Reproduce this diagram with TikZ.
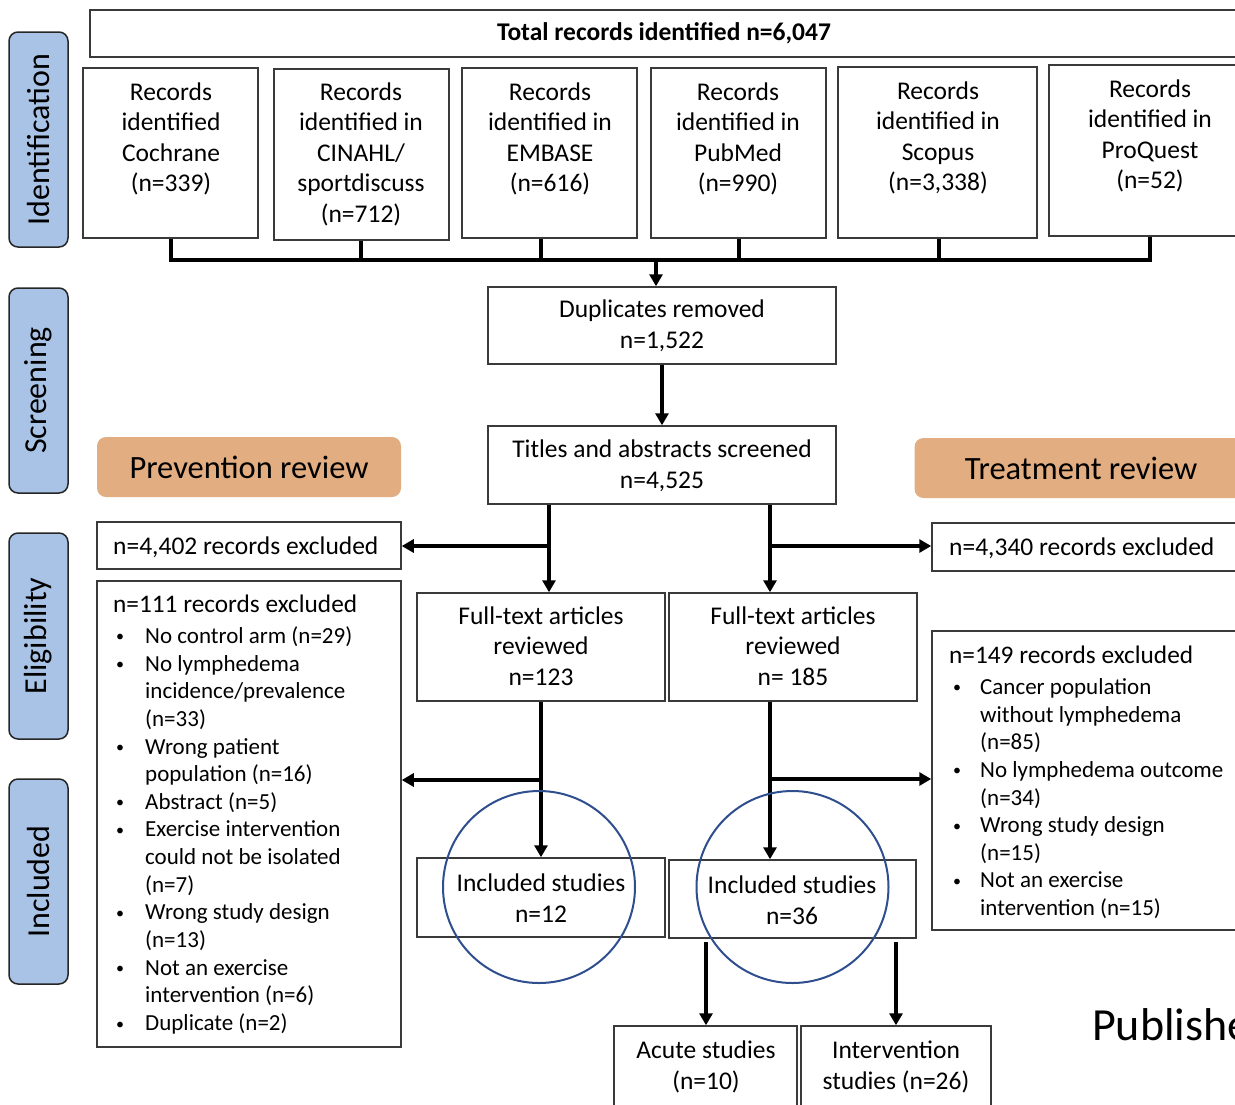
\documentclass[tikz,border=0pt]{standalone}
\usepackage{fontspec}
\setmainfont{Carlito}
\usetikzlibrary{arrows.meta}
\definecolor{stageblue}{HTML}{A9C3E6}
\definecolor{revorange}{HTML}{E2AD80}
\definecolor{boxgray}{HTML}{3A3A3A}
\definecolor{circblue}{HTML}{2E4E8E}
\newcommand{\boxnode}[6][box]{%
  \pgfmathsetmacro{\myw}{#5-#3}\pgfmathsetmacro{\myh}{#6-#4}%
  \pgfmathsetmacro{\mycx}{(#3+#5)/2}\pgfmathsetmacro{\mycy}{(#4+#6)/2}%
  \node[#1, minimum width=\myw pt, minimum height=\myh pt] (#2) at (\mycx,\mycy) {};}
\newcommand{\smbul}{\raisebox{1.5pt}{\fontsize{16}{16}\selectfont\textbullet}}
\newcommand{\itm}{\hspace*{3pt}\makebox[29pt][l]{\smbul}}
\newcommand{\cnt}{\hspace*{32pt}}
\newcommand{\itmr}{\hspace*{4pt}\makebox[27pt][l]{\smbul}}
\newcommand{\cntr}{\hspace*{31pt}}
\newcommand{\hdr}[1]{{\fontsize{25.3}{27.65}\selectfont #1}}
\tikzset{
  box/.style={draw=boxgray, line width=1.5pt, fill=white, inner sep=0pt},
  stage/.style={draw=black!85, line width=1.5pt, fill=stageblue, rounded corners=9pt, inner sep=0pt},
  stagetxt/.style={rotate=90, font=\fontsize{32}{34}\selectfont, inner sep=0pt},
  review/.style={fill=revorange, rounded corners=9pt, inner sep=0pt, font=\fontsize{32.5}{34}\selectfont},
  txt/.style={align=center, font=\fontsize{25.5}{30.5}\selectfont, inner sep=0pt},
  ltxt/.style={align=left, font=\fontsize{25.5}{27.65}\selectfont, inner sep=0pt},
  lsttxt/.style={align=left, font=\fontsize{23}{27.65}\selectfont, inner sep=0pt},
  conn/.style={line width=4pt},
  arr/.style={line width=4pt, -{Triangle[length=12pt,width=13pt]}},
  circ/.style={circle, draw=circblue, line width=2pt, minimum size=192pt, inner sep=0pt}
}
\begin{document}
\begin{tikzpicture}[x=1pt,y=-1pt]
\useasboundingbox (0,0) rectangle (1235,1104);
\clip (0,0) rectangle (1235,1104);
% stage labels
\boxnode[stage]{stI}{9}{32}{68}{247}
\node[stagetxt] (stIt) at (stI) {Identification};
\boxnode[stage]{stS}{9}{288}{68}{493}
\node[stagetxt] (stSt) at (stS) {Screening};
\boxnode[stage]{stE}{9}{533}{68}{739}
\node[stagetxt] (stEt) at (stE) {Eligibility};
\boxnode[stage]{stN}{9}{779}{68}{984}
\node[stagetxt] (stNt) at (stN) {Included};
% total
\boxnode{tot}{90}{10}{1250}{57}
\node[txt, font=\fontsize{25.5}{28}\selectfont\bfseries] (tott) at (664,33) {Total records identified n=6,047};
% records
\boxnode{coch}{83}{68}{258}{238}
\node[txt] (cocht) at (171,139) {Records\\identified\\Cochrane\\(n=339)};
\boxnode{cin}{274}{69}{449}{240}
\node[txt] (cint) at (361,154) {Records\\identified in\\CINAHL/\\sportdiscuss\\(n=712)};
\boxnode{emb}{462}{68}{637}{238}
\node[txt] (embt) at (550,139) {Records\\identified in\\EMBASE\\(n=616)};
\boxnode{pub}{651}{68}{826}{238}
\node[txt] (pubt) at (738,139) {Records\\identified in\\PubMed\\(n=990)};
\boxnode{sco}{838}{67}{1037}{238}
\node[txt] (scot) at (938,138) {Records\\identified in\\Scopus\\(n=3,338)};
\boxnode{pq}{1049}{65}{1250}{236}
\node[txt] (pqt) at (1150,136) {Records\\identified in\\ProQuest\\(n=52)};
% bracket
\coordinate (s1) at (171,260);
\coordinate (s2) at (361,260);
\coordinate (s3) at (541,260);
\coordinate (s4) at (739,260);
\coordinate (s5) at (939,260);
\coordinate (s6) at (1150,260);
\coordinate (s0) at (656,260);
\draw[conn] (coch.south -| s1) -- (s1) -- (s6) -- (pq.south -| s6);
\draw[conn] (cin.south -| s2) -- (s2);
\draw[conn] (emb.south -| s3) -- (s3);
\draw[conn] (pub.south -| s4) -- (s4);
\draw[conn] (sco.south -| s5) -- (s5);
% duplicates / titles
\boxnode{dup}{488}{287}{836}{364}
\node[txt] (dupt) at (662,326) {Duplicates removed\\n=1,522};
\boxnode{tit}{488}{426}{836}{504}
\node[txt] (titt) at (662,466) {Titles and abstracts screened\\n=4,525};
\draw[arr] (s0) -- (dup.north -| s0);
\draw[arr] (dup.south) -- (tit.north);
% reviews
\node[review, minimum width=304pt, minimum height=60pt] (prev) at (249,467) {Prevention review};
\node[review, minimum width=333pt, minimum height=60pt] (treat) at (1081,468) {Treatment review};
% exclusions
\boxnode{ex1}{97}{522}{401}{569}
\node[ltxt, anchor=west] (ex1t) at (113,547) {n=4,402 records excluded};
\boxnode{ex2}{932}{523}{1250}{571}
\node[ltxt, anchor=west] (ex2t) at (949,548) {n=4,340 records excluded};
% full text
\boxnode{ftl}{417}{593}{665}{701}
\node[txt] (ftlt) at (541,646) {Full-text articles\\reviewed\\n=123};
\boxnode{ftr}{669}{593}{917}{701}
\node[txt] (ftrt) at (793,646) {Full-text articles\\reviewed\\n= 185};
% lists
\boxnode{lst1}{97}{581}{401}{1047}
\node[lsttxt, anchor=north west] (lst1t) at (113,595) {\hdr{n=111 records excluded}\\[3pt]
\itm No control arm (n=29)\\
\itm No lymphedema\\
\cnt incidence/prevalence\\
\cnt (n=33)\\
\itm Wrong patient\\
\cnt population (n=16)\\
\itm Abstract (n=5)\\
\itm Exercise intervention\\
\cnt could not be isolated\\
\cnt (n=7)\\
\itm Wrong study design\\
\cnt (n=13)\\
\itm Not an exercise\\
\cnt intervention (n=6)\\
\itm Duplicate (n=2)};
\boxnode{lst2}{932}{631}{1250}{930}
\node[lsttxt, anchor=north west] (lst2t) at (949,646) {\hdr{n=149 records excluded}\\[3pt]
\itmr Cancer population\\
\cntr without lymphedema\\
\cntr (n=85)\\
\itmr No lymphedema outcome\\
\cntr (n=34)\\
\itmr Wrong study design\\
\cntr (n=15)\\
\itmr Not an exercise\\
\cntr intervention (n=15)};
% included
\boxnode{inl}{417}{858}{665}{937}
\node[txt] (inlt) at (541,898) {Included studies\\n=12};
\boxnode{inr}{669}{860}{916}{938}
\node[txt] (inrt) at (792,900) {Included studies\\n=36};
% bottom
\boxnode{acu}{614}{1026}{797}{1120}
\node[txt] (acut) at (706,1067) {Acute studies\\(n=10)};
\boxnode{intv}{801}{1026}{991}{1120}
\node[txt] (intvt) at (896,1067) {Intervention\\studies (n=26)};
% connectors
\coordinate (tL) at (549,546);
\coordinate (tR) at (770,546);
\coordinate (uL) at (541,780);
\coordinate (uR) at (770,779);
\coordinate (vA) at (706,942);
\coordinate (vB) at (896,942);
\draw[arr] (tit.south -| tL) -- (ftl.north -| tL);
\draw[arr] (tL) -- (ex1.east |- tL);
\draw[arr] (tit.south -| tR) -- (ftr.north -| tR);
\draw[arr] (tR) -- (ex2.west |- tR);
\draw[arr] (ftl.south -| uL) -- (inl.north -| uL);
\draw[arr] (uL) -- (lst1.east |- uL);
\draw[arr] (ftr.south -| uR) -- (inr.north -| uR);
\draw[arr] (uR) -- (lst2.west |- uR);
\draw[arr] (vA) -- (acu.north -| vA);
\draw[arr] (vB) -- (intv.north -| vB);
% circles
\node[circ] (c1) at (539,887) {};
\node[circ] (c2) at (792.5,887) {};
% publisher text
\node[anchor=base west, inner sep=0pt, font=\fontsize{46}{50}\selectfont] (pubtxt) at (1092,1040) {Publishe};
\end{tikzpicture}
\end{document}
